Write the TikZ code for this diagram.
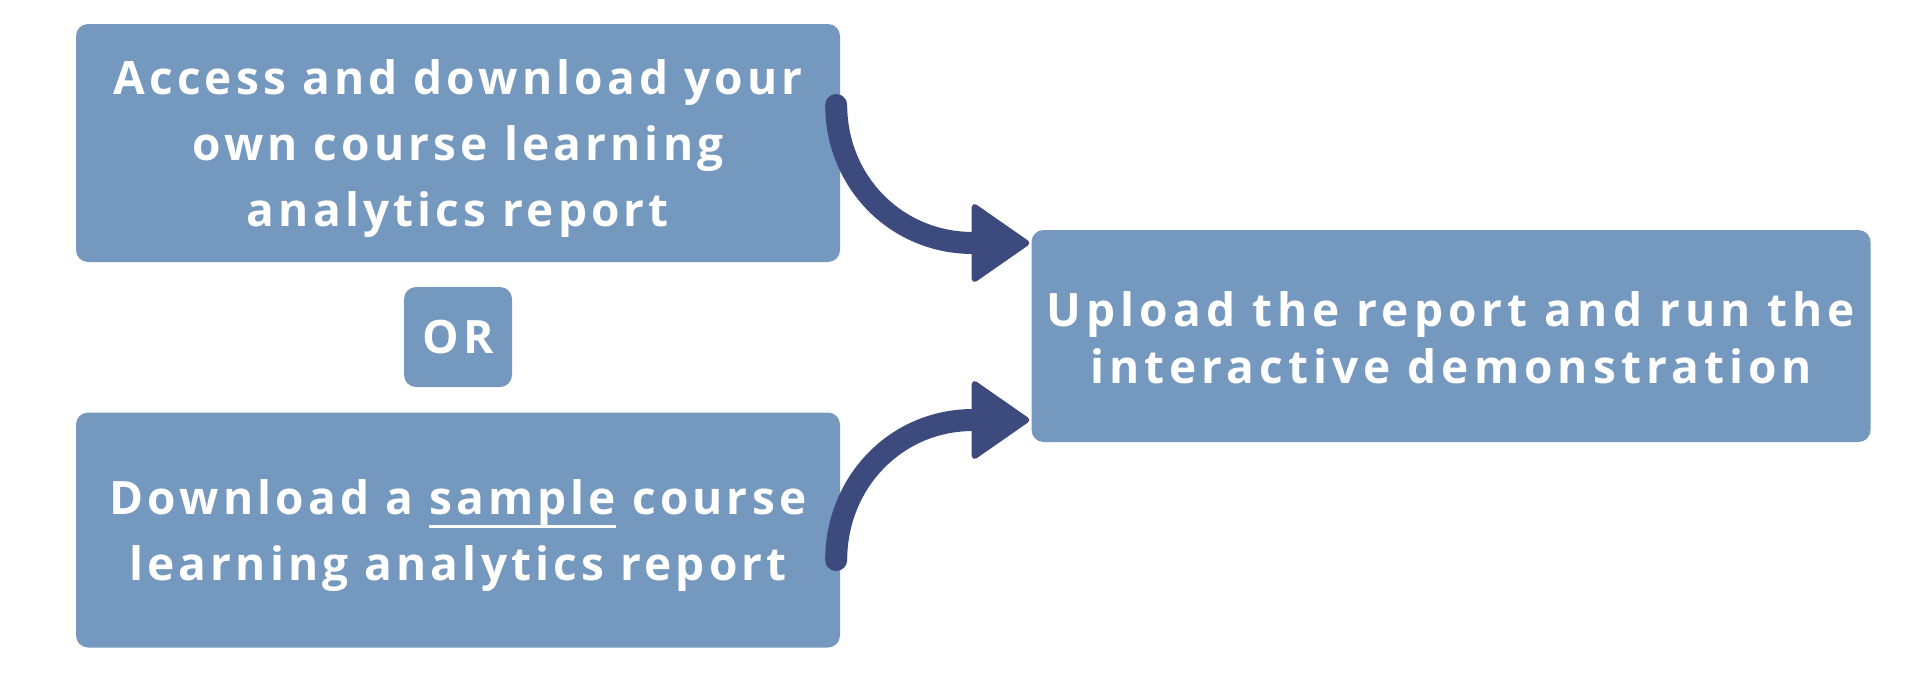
\documentclass[tikz,border=0pt]{standalone}
\usepackage{fontspec}
\setmainfont{Open Sans}[LetterSpace=9]
\newcommand{\flowul}[1]{\setbox0\hbox{#1}\rlap{\rule[-13pt]{\wd0}{3pt}}\box0\relax}
\newcommand{\flowstrut}{\rule{0pt}{47pt}}
\definecolor{flow_box}{RGB}{117, 152, 191}
\definecolor{flow_arrow}{RGB}{61, 74, 126}
\usepackage{tikz}
\usetikzlibrary{arrows.meta, positioning}

\begin{document}
\begin{tikzpicture}[x=1pt, y=-1pt,
    stepbox/.style={fill=flow_box, rounded corners=12pt, text=white,
      align=center, inner sep=0pt,
      font=\fontsize{46}{66}\selectfont\bfseries},
    flowarrow/.style={flow_arrow, line width=22pt, line cap=round,
      -{Triangle[length=60pt, width=82pt, line width=6pt, round]}}]
  \useasboundingbox (0,0) rectangle (1920,691);
  \node[stepbox, minimum width=764pt, minimum height=238pt]
    (access) at (458,143) {\flowstrut Access and download your\\own course learning\\analytics report};
  \node[stepbox, minimum width=108pt, minimum height=100pt]
    (orbox) at (458,337) {OR};
  \node[stepbox, minimum width=764pt, minimum height=235pt]
    (sample) at (458,530) {\flowstrut Download a \flowul{sample} course\\learning analytics report};
  \node[stepbox, minimum width=839pt, minimum height=212pt,
    font=\fontsize{46}{57}\selectfont\bfseries\addfontfeatures{LetterSpace=11}]
    (upload) at (1451,336) {\rule{0pt}{39pt}Upload the report and run the\\interactive demonstration};
  \draw[flowarrow] ([xshift=-4pt, yshift=38pt]access.east)
    .. controls +(0,76) and +(-134,0) .. ([xshift=-2pt, yshift=93pt]upload.west);
  \draw[flowarrow] ([xshift=-4pt, yshift=-30pt]sample.east)
    .. controls +(0,-77) and +(-134,0) .. ([xshift=-2pt, yshift=-84pt]upload.west);
\end{tikzpicture}
\end{document}
